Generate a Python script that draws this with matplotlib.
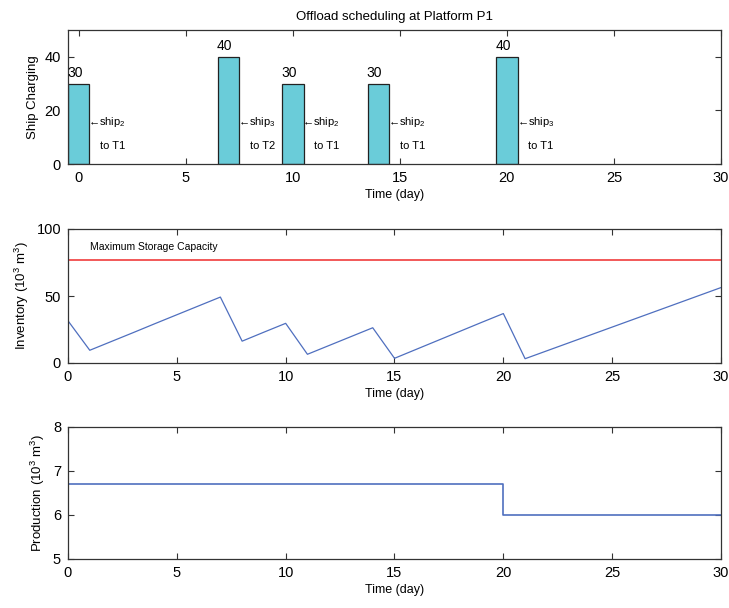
import matplotlib
matplotlib.use("Agg")
import matplotlib.pyplot as plt

plt.rcParams["font.family"] = ["Liberation Sans", "DejaVu Sans"]
plt.rcParams["font.size"] = 9
plt.rcParams["mathtext.fontset"] = "custom"
plt.rcParams["mathtext.rm"] = "Liberation Sans"
plt.rcParams["mathtext.it"] = "Liberation Sans"

# offloads: day, ship load, ship, terminal
offload_days = [0, 7, 10, 14, 20]
offload_amounts = [30, 40, 30, 30, 40]
offload_ships = ["2", "3", "2", "2", "3"]
offload_terminals = ["T1", "T2", "T1", "T1", "T1"]

# inventory level (10^3 m^3) per day
inv_days = list(range(31))
inventory = [31.5, 9.5, 16.1, 22.7, 29.4, 36.0, 42.6, 49.2, 16.3, 23.0,
             29.6, 6.5, 13.1, 19.7, 26.3, 3.5, 10.2, 16.9, 23.6, 30.3,
             36.9, 3.2, 9.1, 15.0, 20.9, 26.8, 32.7, 38.6, 44.5, 50.4, 56.3]
max_capacity = 77

# production rate (10^3 m^3 / day), step change at day 20
prod_days = [0, 20, 30]
production = [6.7, 6.0, 6.0]

bar_color = "#6ACCD9"
line_blue = "#4F6FBF"
line_red = "#F03C3C"


def style_axes(ax):
    ax.tick_params(direction="in", top=True, right=True, length=4,
                   width=0.8, labelsize=10.5, pad=5, color="#333333")
    for sp in ax.spines.values():
        sp.set_linewidth(0.9)
        sp.set_color("#333333")
    ax.set_xlabel("Time (day)", fontsize=9, labelpad=3)


fig = plt.figure(figsize=(7.29, 6.08), dpi=100)
W, H = 729, 608
left, right = 68 / W, 721 / W
ax1 = fig.add_axes([left, 1 - 164 / H, right - left, (164 - 30) / H])
ax2 = fig.add_axes([left, 1 - 363 / H, right - left, (363 - 229) / H])
ax3 = fig.add_axes([left, 1 - 559 / H, right - left, (559 - 427) / H])

# ship charging
ax1.bar(offload_days, offload_amounts, width=1.0, color=bar_color,
        edgecolor="#222222", linewidth=0.9, zorder=2)
for d, a, s, t in zip(offload_days, offload_amounts, offload_ships,
                      offload_terminals):
    ax1.text(d - 0.55, a + 1.5, str(a), ha="left", va="bottom", fontsize=10)
    ax1.text(d + 0.45, 15.5, "\u2190ship$_{" + s + "}$", ha="left",
             va="center", fontsize=8)
    ax1.text(d + 1.0, 6.8, "to " + t, ha="left", va="center", fontsize=8)
ax1.set_xlim(-0.5, 30)
ax1.set_ylim(0, 50)
ax1.set_xticks([0, 5, 10, 15, 20, 25, 30])
ax1.set_yticks([0, 20, 40])
ax1.set_ylabel("Ship Charging", fontsize=9.5)
ax1.set_title("Offload scheduling at Platform P1", fontsize=9.5, pad=7)
style_axes(ax1)

# inventory
ax2.plot(inv_days, inventory, color=line_blue, linewidth=0.9)
ax2.axhline(max_capacity, color=line_red, linewidth=1.2)
ax2.text(1.0, 86.5, "Maximum Storage Capacity", fontsize=7.5, va="center")
ax2.set_xlim(0, 30)
ax2.set_ylim(0, 100)
ax2.set_xticks([0, 5, 10, 15, 20, 25, 30])
ax2.set_yticks([0, 50, 100])
ax2.set_ylabel("Inventory (10$^3$ m$^3$)", fontsize=9.5)
style_axes(ax2)

# production
ax3.step(prod_days, production, where="post", color=line_blue, linewidth=1.2)
ax3.set_xlim(0, 30)
ax3.set_ylim(5, 8)
ax3.set_xticks([0, 5, 10, 15, 20, 25, 30])
ax3.set_yticks([5, 6, 7, 8])
ax3.set_ylabel("Production (10$^3$ m$^3$)", fontsize=9.5)
style_axes(ax3)

fig.savefig("out.png", dpi=100)
plt.close(fig)
